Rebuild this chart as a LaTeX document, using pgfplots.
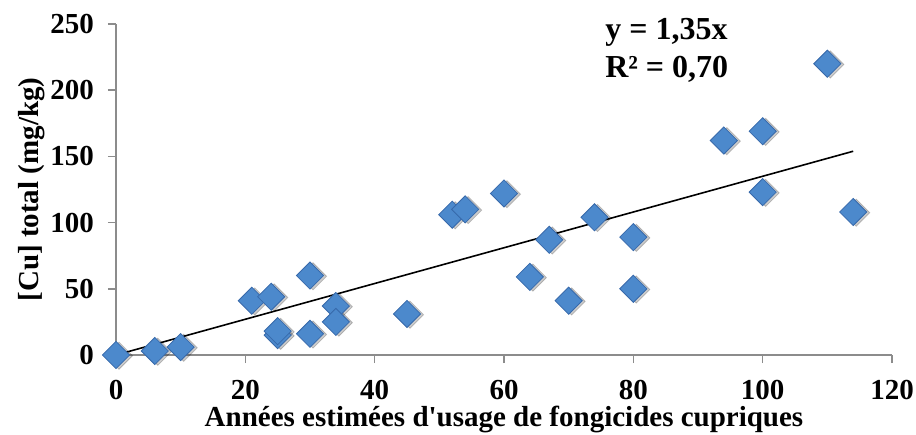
\documentclass[border=0pt]{standalone}
\usepackage{fontspec}
\setmainfont{Liberation Serif}
\newfontface\straightq{Liberation Serif Bold}
\usepackage{pgfplots}
\pgfplotsset{compat=1.18}
\definecolor{mk}{RGB}{76,137,204}
\definecolor{mkd}{RGB}{55,105,170}
\definecolor{ax}{RGB}{140,140,140}
\pgfplotstableread{
x y
0 0
6 3
10 6
21 41
24 44
25 15
25 18
30 60
30 16
34 37
34 25
45 31
52 106
54 110
60 122
64 59
67 87
70 41
74 104
80 89
80 50
94 162
100 169
100 123
110 220
114 108
}\cudata
\begin{document}
\begin{tikzpicture}
\path[use as bounding box] (-58pt,-39.5pt) rectangle (400pt,177.5pt);
\begin{axis}[
  scale only axis, width=388pt, height=165.5pt,
  xmin=0, xmax=120, ymin=0, ymax=250,
  axis x line*=bottom, axis y line*=left,
  axis line style={ax, line width=0.8pt},
  xtick={0,20,...,120}, ytick={0,50,...,250},
  tick style={ax, line width=0.8pt},
  tick align=outside, major tick length=4pt,
  tick label style={font=\fontsize{14.5}{16}\selectfont\bfseries},
  xticklabel style={yshift=-5pt},
  yticklabel style={xshift=-3.5pt},
  /pgf/number format/assume math mode=true,
  clip=false,
  xlabel={Années estimées d{\straightq\fontsize{14.5}{16}\selectfont'}usage de fongicides cupriques},
  ylabel={[Cu] total (mg/kg)},
  label style={font=\fontsize{14.5}{16}\selectfont\bfseries},
  xlabel style={at={(rel axis cs:0.5,0)}, anchor=base, yshift=-35.8pt},
  ylabel style={at={(axis description cs:-0.1005,0.5)}, anchor=base},
]
\addplot[only marks, mark=square*, mark size=4.8pt,
  mark options={rotate=45, fill=black, draw=none, opacity=0.2, xshift=0.8pt, yshift=-1.3pt}]
  table[x=x, y=y] {\cudata};
\addplot[only marks, mark=square*, mark size=4.8pt,
  mark options={rotate=45, fill=mk, draw=mkd, line width=0.4pt}]
  table[x=x, y=y] {\cudata};
\addplot[black, line width=0.8pt] coordinates {(0,0) (114,153.9)};
\node[anchor=base west, inner sep=0, font=\fontsize{16}{18}\selectfont\bfseries] at (axis cs:75.6,238.5) {y = 1,35x};
\node[anchor=base west, inner sep=0, font=\fontsize{16}{18}\selectfont\bfseries] at (axis cs:75.6,209.5) {R² = 0,70};
\end{axis}
\end{tikzpicture}
\end{document}
